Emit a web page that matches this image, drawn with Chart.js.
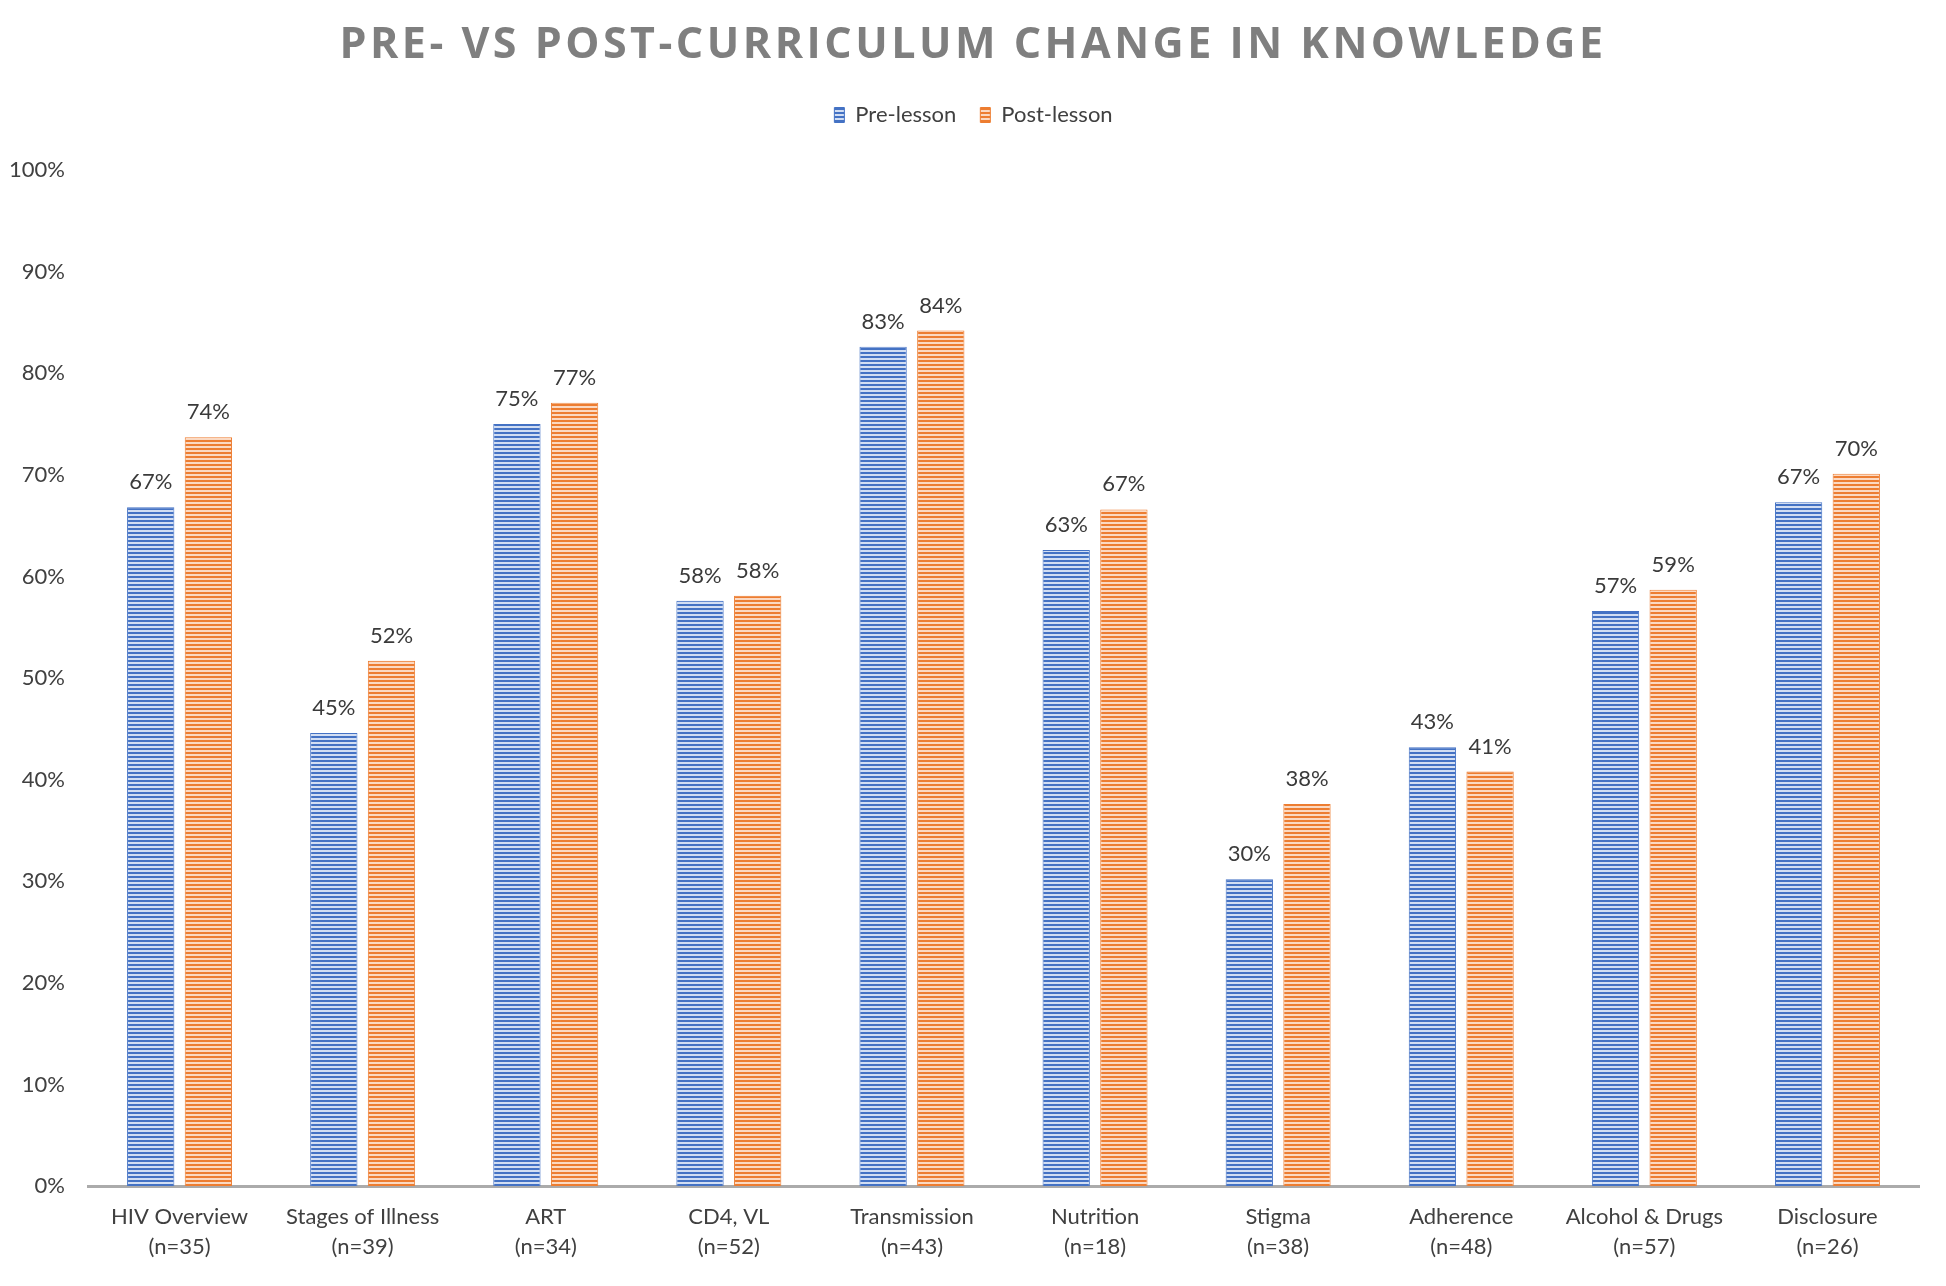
<!DOCTYPE html>
<html>
<head>
<meta charset="utf-8">
<script src="https://cdn.jsdelivr.net/npm/chart.js@4"></script>
<style>
  html, body { margin: 0; padding: 0; background: #fff; }
  #wrap { position: relative; width: 1946px; height: 1286px; }
  #title {
    position: absolute; top: 12px; left: 0; width: 1946px; text-align: center;
    font-family: "Open Sans", sans-serif; font-weight: 700; font-size: 43px;
    letter-spacing: 3.5px; color: #7f7f7f;
  }
</style>
</head>
<body>
<div id="wrap">
  <div id="title">PRE- VS POST-CURRICULUM CHANGE IN KNOWLEDGE</div>
  <canvas id="chart" width="1946" height="1286"></canvas>
</div>
<script>
// Topics with sample sizes
const topics = ['HIV Overview', 'Stages of Illness', 'ART', 'CD4, VL', 'Transmission',
                'Nutrition', 'Stigma', 'Adherence', 'Alcohol & Drugs', 'Disclosure'];
const sampleSizes = [35, 39, 34, 52, 43, 18, 38, 48, 57, 26];

// Percent correct
const preLesson  = [66.8, 44.6, 75.0, 57.6, 82.6, 62.6, 30.2, 43.2, 56.6, 67.3];
const postLesson = [73.7, 51.7, 77.1, 58.1, 84.2, 66.6, 37.6, 40.8, 58.7, 70.1];

const yTicks = [0, 10, 20, 30, 40, 50, 60, 70, 80, 90, 100];

// horizontal stripe fill like the original
function stripes(main, light) {
  const c = document.createElement('canvas');
  c.width = 4; c.height = 4;
  const g = c.getContext('2d');
  g.fillStyle = light;
  g.fillRect(0, 0, 4, 4);
  g.fillStyle = main;
  g.fillRect(0, 0, 4, 2);
  return g.createPattern(c, 'repeat');
}

const blueFill = stripes('#4472c4', '#d2def3');
const orangeFill = stripes('#ed7d31', '#fbd9c2');

// value labels above each bar
const barLabels = {
  id: 'barLabels',
  afterDatasetsDraw(chart) {
    const ctx = chart.ctx;
    ctx.save();
    ctx.font = '22px Lato';
    ctx.fillStyle = '#3a3a3a';
    ctx.textAlign = 'center';
    ctx.textBaseline = 'bottom';
    chart.data.datasets.forEach((ds, i) => {
      chart.getDatasetMeta(i).data.forEach((bar, j) => {
        ctx.fillText(Math.round(ds.data[j]) + '%', bar.x, bar.y - 14);
      });
    });
    ctx.restore();
  }
};

// extra room under the legend, and centre it on the page
const legendGap = {
  id: 'legendGap',
  beforeInit(chart) {
    const fit = chart.legend.fit;
    chart.legend.fit = function () {
      fit.bind(chart.legend)();
      this.height += 34;
    };
  },
  afterLayout(chart) {
    chart.legend.left += 14;
    chart.legend.right += 14;
  }
};

Chart.defaults.font.family = 'Lato';
Chart.defaults.color = '#595959';

new Chart(document.getElementById('chart').getContext('2d'), {
  type: 'bar',
  data: {
    labels: topics.map((t, i) => [t, '(n=' + sampleSizes[i] + ')']),
    datasets: [
      {
        label: 'Pre-lesson',
        data: preLesson,
        backgroundColor: blueFill,
        borderColor: '#4472c4',
        borderWidth: 1,
        categoryPercentage: 0.63,
        barPercentage: 0.82
      },
      {
        label: 'Post-lesson',
        data: postLesson,
        backgroundColor: orangeFill,
        borderColor: '#ed7d31',
        borderWidth: 1,
        categoryPercentage: 0.63,
        barPercentage: 0.82
      }
    ]
  },
  options: {
    responsive: false,
    animation: false,
    layout: { padding: { top: 80, left: 0, right: 27, bottom: 8 } },
    plugins: {
      tooltip: { enabled: false },
      legend: {
        position: 'top',
        labels: {
          boxWidth: 10,
          boxHeight: 15,
          padding: 24,
          color: '#404040',
          font: { size: 22 }
        }
      }
    },
    scales: {
      x: {
        grid: { display: false, drawTicks: false },
        border: { color: '#ababab', width: 3 },
        ticks: { padding: 16, color: '#404040', font: { size: 22, lineHeight: 1.36 }, maxRotation: 0 }
      },
      y: {
        min: 0,
        max: 100,
        afterBuildTicks: axis => { axis.ticks = yTicks.map(v => ({ value: v })); },
        afterFit: axis => { axis.width = 88; },
        grid: { display: false, drawTicks: false },
        border: { display: false },
        ticks: { padding: 23, color: '#404040', font: { size: 22 }, callback: v => v + '%' }
      }
    }
  },
  plugins: [barLabels, legendGap]
});
</script>
</body>
</html>
